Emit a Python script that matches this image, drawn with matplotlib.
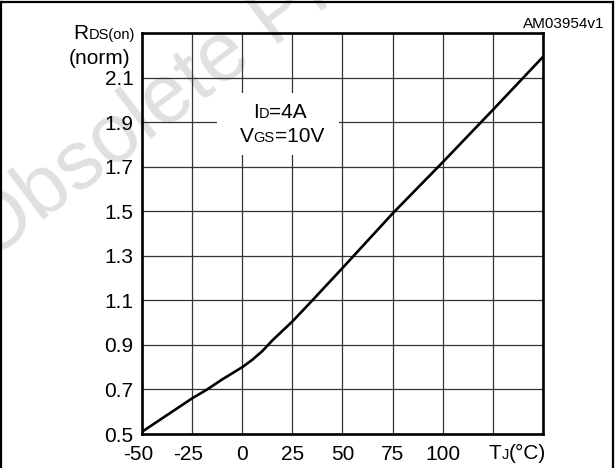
import matplotlib
matplotlib.use('Agg')
import matplotlib.pyplot as plt
from matplotlib.lines import Line2D
from matplotlib.patches import Rectangle
from matplotlib import transforms

plt.rcParams['font.family'] = ['Liberation Sans', 'DejaVu Sans']
plt.rcParams['axes.unicode_minus'] = False

# curve
temp = [-50, -25, -17.5, -10, 0, 5, 10, 15, 25, 35.5, 50, 75, 100, 125, 150]
rds_norm = [0.51, 0.66, 0.70, 0.745, 0.80, 0.833, 0.872, 0.92, 1.005, 1.105, 1.245, 1.49, 1.72, 1.955, 2.193]

x_ticks = [-50, -25, 0, 25, 50, 75, 100, 125, 150]
x_labels = ['-50', '-25', '0', '25', '50', '75', '100', '', '']
y_ticks = [0.5, 0.7, 0.9, 1.1, 1.3, 1.5, 1.7, 1.9, 2.1, 2.3]
y_labels = ['0.5', '0.7', '0.9', '1.1', '1.3', '1.5', '1.7', '1.9', '2.1', '']

W, H = 615, 468
fig = plt.figure(figsize=(W / 100, H / 100), dpi=100)
renderer = fig.canvas.get_renderer()
px = transforms.IdentityTransform()

# faint watermark behind everything
fig.text(-12 / W, (H - 262) / H, 'Obsolete Product(s)', rotation=37, rotation_mode='anchor',
         fontsize=60, color='#e0e0e0', ha='left', va='baseline', zorder=-5)

ax = fig.add_axes([142 / W, 34 / H, 401 / W, 401 / H])
ax.set_zorder(2)
ax.patch.set_alpha(0)
ax.set_xlim(-50, 150)
ax.set_ylim(0.5, 2.3)
ax.set_xticks(x_ticks)
ax.set_xticklabels(x_labels)
ax.set_yticks(y_ticks)
ax.set_yticklabels(y_labels)
ax.tick_params(length=0, labelsize=15)
ax.tick_params(axis='x', pad=8)
ax.tick_params(axis='y', pad=6)
ax.grid(True, color='#333333', lw=0.9)
ax.set_axisbelow(True)
for sp in ax.spines.values():
    sp.set_linewidth(1.9)
    sp.set_zorder(5)

# hyphen hangs left of the centred digits
for lab in ax.get_xticklabels():
    if lab.get_text().startswith('-'):
        lab.set_transform(lab.get_transform() + transforms.ScaledTranslation(-3.5 / 100, 0, fig.dpi_scale_trans))

# white box behind the conditions text
ax.add_patch(Rectangle((-12.6, 1.752), 60.9, 0.278, facecolor='white', edgecolor='none', zorder=1))

ax.plot(temp, rds_norm, color='black', lw=1.9, zorder=3)


def rich_text(x, y, parts, ha='left'):
    # x, y in pixels from bottom-left, y is the baseline
    pieces = [fig.text(0, 0, s, fontsize=size, ha='left', va='baseline', transform=px, zorder=3)
              for s, size in parts]
    widths = [t.get_window_extent(renderer).width for t in pieces]
    total = sum(widths)
    if ha == 'right':
        x0 = x - total
    elif ha == 'center':
        x0 = x - total / 2
    else:
        x0 = x
    for t, w in zip(pieces, widths):
        t.set_position((x0, y))
        x0 += w


rich_text(135, H - 39, [('R', 15), ('DS(on)', 10.5)], ha='right')
fig.text(130, H - 64.5, '(norm)', fontsize=15, ha='right', va='baseline', transform=px, zorder=3)
rich_text(280, H - 118, [('I', 15), ('D', 10.5), ('=4A', 15)], ha='center')
rich_text(282, H - 141.5, [('V', 15), ('GS', 10.5), ('=10V', 15)], ha='center')
rich_text(546, H - 459, [('T', 15), ('J', 10.5), ('(°C)', 15)], ha='right')
fig.text(604, H - 28, 'AM03954v1', fontsize=11, ha='right', va='baseline', transform=px, zorder=3)

# outer frame (bottom edge is cropped in the original)
for xs, ys in [((1, 1), (0, H - 2)), ((1, W - 2), (H - 2, H - 2)), ((W - 2, W - 2), (H - 2, 0))]:
    fig.add_artist(Line2D(xs, ys, transform=px, color='black', lw=1.6, zorder=3))

fig.savefig('out.png', dpi=100)
